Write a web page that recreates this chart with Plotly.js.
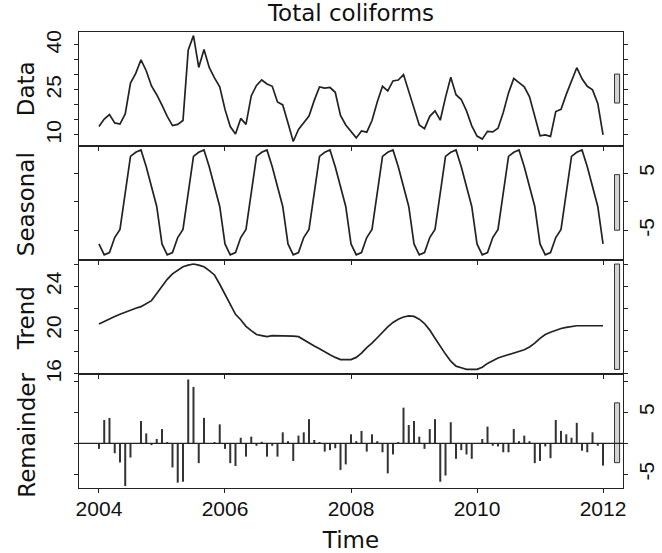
<!DOCTYPE html>
<html><head><meta charset="utf-8">
<script src="https://cdn.plot.ly/plotly-3.0.1.min.js"></script>
<style>html,body{margin:0;padding:0;background:#fff}</style>
</head><body><div id="chart" style="width:662px;height:553px"></div>
<script>
const startYear = 2004, frequency = 12;
const chartTitle = "Total coliforms";
const xTitle = "Time";
const panelNames = ["Data", "Seasonal", "Trend", "Remainder"];

const dataValues = [
12.8,15.3,16.8,14.0,13.6,17.0,27.3,30.5,35.0,31.4,26.3,23.4,
19.9,16.2,13.1,13.5,14.8,38.3,43.1,32.5,38.5,32.5,29.0,26.0,
18.5,12.8,10.3,15.5,13.5,23.0,26.5,28.3,27.0,26.2,21.0,20.0,
14.0,7.8,11.8,14.2,16.3,21.5,26.0,25.6,25.8,24.2,16.5,13.3,
11.0,9.0,11.3,10.9,14.8,21.0,26.2,24.7,28.0,28.3,30.1,24.5,
18.7,13.3,12.1,16.2,18.0,14.9,22.5,29.2,23.4,21.8,18.0,13.0,
9.6,8.6,11.2,11.0,12.2,17.5,24.0,28.8,27.4,26.0,22.7,16.5,
9.7,10.0,9.5,17.8,18.5,23.5,28.0,32.4,28.7,26.2,25.0,20.5,
10.0];

const seasonalValues = [
-7.3,-9.2,-8.8,-6.2,-4.8,1.5,7.9,8.6,9.0,6.1,2.7,-0.8,
-7.3,-9.2,-8.8,-6.2,-4.8,1.5,7.9,8.6,9.0,6.1,2.7,-0.8,
-7.3,-9.2,-8.8,-6.2,-4.8,1.5,7.9,8.6,9.0,6.1,2.7,-0.8,
-7.3,-9.2,-8.8,-6.2,-4.8,1.5,7.9,8.6,9.0,6.1,2.7,-0.8,
-7.3,-9.2,-8.8,-6.2,-4.8,1.5,7.9,8.6,9.0,6.1,2.7,-0.8,
-7.3,-9.2,-8.8,-6.2,-4.8,1.5,7.9,8.6,9.0,6.1,2.7,-0.8,
-7.3,-9.2,-8.8,-6.2,-4.8,1.5,7.9,8.6,9.0,6.1,2.7,-0.8,
-7.3,-9.2,-8.8,-6.2,-4.8,1.5,7.9,8.6,9.0,6.1,2.7,-0.8,
-7.3];

const trendValues = [
20.55,20.8,21.0,21.25,21.45,21.65,21.85,22.0,22.15,22.4,22.7,23.35,
24.05,24.65,25.15,25.5,25.8,25.95,26.05,25.95,25.8,25.45,25.05,24.2,
23.3,22.35,21.45,20.95,20.35,19.95,19.6,19.5,19.4,19.5,19.5,19.5,
19.5,19.45,19.4,19.1,18.85,18.55,18.3,18.0,17.75,17.5,17.3,17.3,
17.3,17.5,17.9,18.4,18.8,19.3,19.85,20.3,20.7,21.0,21.2,21.3,
21.25,21.0,20.6,20.0,19.25,18.5,17.8,17.15,16.7,16.55,16.4,16.4,
16.4,16.6,16.95,17.2,17.45,17.6,17.75,17.9,18.05,18.2,18.45,18.8,
19.25,19.6,19.8,20.0,20.15,20.25,20.35,20.4,20.4,20.4,20.4,20.4,
20.4];

const remainderValues = [
-0.9,3.76,4.1,-1.6,-3.1,-6.9,-2.3,0.05,3.6,1.6,-0.3,0.7,
2.3,0.2,-3.9,-6.35,-6.2,10.3,9.1,-3.2,4.1,0.05,0.2,3.06,
-0.9,-3.2,-3.66,0.9,-2.15,1.07,-0.4,0.25,-2.15,-0.4,-2.15,1.77,
0.35,-2.85,1.24,1.77,3.9,0.54,0.2,-1.34,-1.1,-0.8,-4.3,-3.4,
1.45,0.35,2.0,-1.34,1.45,0.35,-1.45,-4.85,-1.8,0.2,5.75,2.95,
3.6,1.07,-0.9,2.3,3.9,-6.2,-5.2,3.4,-2.5,-1.1,-1.8,-2.5,
0.05,0.7,2.7,-0.4,-0.5,-1.45,-1.45,2.3,0.35,1.24,0.35,-3.2,
-2.85,-0.5,-2.4,3.76,2.0,1.45,0.9,3.3,-1.2,-1.45,1.77,-0.4,
-3.6];

const xTickVals = [2004, 2006, 2008, 2010, 2012];
const dataTickVals = [10,15,20,25,30,35,40];
const dataTickText = ["10","","","25","","","40"];
const seasonalTickVals = [-5,0,5];
const seasonalTickText = ["-5","","5"];
const trendTickVals = [16,18,20,22,24,26];
const trendTickText = ["16","","20","","24",""];
const remainderTickVals = [-5,0,5,10];
const remainderTickText = ["-5","","5",""];

const time = dataValues.map((_, i) => startYear + i / frequency);
const xRange = [2003.683, 2012.317];
const ink = "#222";
const lineStyle = {color: ink, width: 1.7};

const traces = [
  {type: "scatter", mode: "lines", x: time, y: dataValues, xaxis: "x", yaxis: "y", line: lineStyle, hoverinfo: "skip"},
  {type: "scatter", mode: "lines", x: time, y: seasonalValues, xaxis: "x2", yaxis: "y2", line: lineStyle, hoverinfo: "skip"},
  {type: "scatter", mode: "lines", x: time, y: trendValues, xaxis: "x3", yaxis: "y3", line: lineStyle, hoverinfo: "skip"},
  {type: "bar", x: time, y: remainderValues, width: 0.032, xaxis: "x4", yaxis: "y4", marker: {color: "#333", line: {width: 0}}, hoverinfo: "skip"}
];

const tickFont = {family: "Liberation Sans, Arial, sans-serif", size: 21, color: "#111"};
const titleFont = {family: "DejaVu Sans, sans-serif", size: 23, color: "#111"};

function xAxis(anchor, last) {
  const ax = {
    anchor: anchor, domain: [0, 1], range: xRange,
    showline: true, linecolor: ink, linewidth: 1.4, mirror: true,
    showgrid: false, zeroline: false,
    tickmode: "array", tickvals: xTickVals, ticks: "outside", ticklen: 4, tickcolor: ink,
    showticklabels: last, tickfont: tickFont
  };
  if (anchor !== "y") ax.matches = "x";
  if (last) { ax.title = {text: xTitle, font: titleFont, standoff: 15}; ax.ticklabelstandoff = -3; }
  return ax;
}
function yAxis(anchor, domain, range, vals, text, side) {
  return {
    anchor: anchor, domain: domain, range: range, side: side,
    showline: true, linecolor: ink, linewidth: 1.4, mirror: "ticks",
    showgrid: false, zeroline: false,
    tickmode: "array", tickvals: vals, ticktext: text, ticks: "outside", ticklen: 4, tickcolor: ink,
    tickangle: -90, tickfont: tickFont, ticklabelstandoff: side === "left" ? 4 : 0
  };
}

const panels = [
  {vals: dataValues, ref: "y"},
  {vals: seasonalValues, ref: "y2"},
  {vals: trendValues, ref: "y3"},
  {vals: remainderValues, ref: "y4"}
];
const ranges = panels.map(p => [Math.min(...p.vals), Math.max(...p.vals)]);
const mx = Math.min(...ranges.map(r => r[1] - r[0]));
const dx = (xRange[1] - xRange[0]) / 64;
const xrefs = ["x", "x2", "x3", "x4"];
const shapes = panels.map((p, i) => {
  const mid = (ranges[i][0] + ranges[i][1]) / 2;
  return {type: "rect", xref: xrefs[i], yref: p.ref, x0: xRange[1] - dx, x1: xRange[1] - 0.4 * dx,
    y0: mid - mx / 2, y1: mid + mx / 2, fillcolor: "#d3d3d3", line: {color: "#333", width: 1}, layer: "above"};
});
shapes.push({type: "line", xref: "x4", yref: "y4", x0: xRange[0], x1: xRange[1], y0: 0, y1: 0, line: {color: ink, width: 1.3}});

const labelY = [0.875, 0.623, 0.373, 0.115];
const annotations = panelNames.map((name, i) => ({
  text: name, xref: "paper", yref: "paper", x: -0.097, y: labelY[i], xanchor: "center", yanchor: "middle",
  textangle: -90, showarrow: false, font: titleFont
}));

const layout = {
  width: 662, height: 553,
  margin: {l: 79, r: 39, t: 32, b: 65},
  paper_bgcolor: "#fff", plot_bgcolor: "#fff",
  showlegend: false,
  title: {text: chartTitle, font: titleFont, x: 0.5, xref: "paper", y: 0.977, yref: "container", yanchor: "middle"},
  xaxis: xAxis("y", false),
  xaxis2: xAxis("y2", false),
  xaxis3: xAxis("y3", false),
  xaxis4: xAxis("y4", true),
  yaxis: yAxis("x", [0.75, 1], [6.3, 44.3], dataTickVals, dataTickText, "left"),
  yaxis2: yAxis("x2", [0.5, 0.75], [-10.1, 9.7], seasonalTickVals, seasonalTickText, "right"),
  yaxis3: yAxis("x3", [0.25, 0.5], [15.98, 26.42], trendTickVals, trendTickText, "left"),
  yaxis4: yAxis("x4", [0, 0.25], [-7.21, 11.18], remainderTickVals, remainderTickText, "right"),
  shapes: shapes,
  annotations: annotations
};

Plotly.newPlot("chart", traces, layout, {displayModeBar: false, staticPlot: true});
</script>
</body></html>
